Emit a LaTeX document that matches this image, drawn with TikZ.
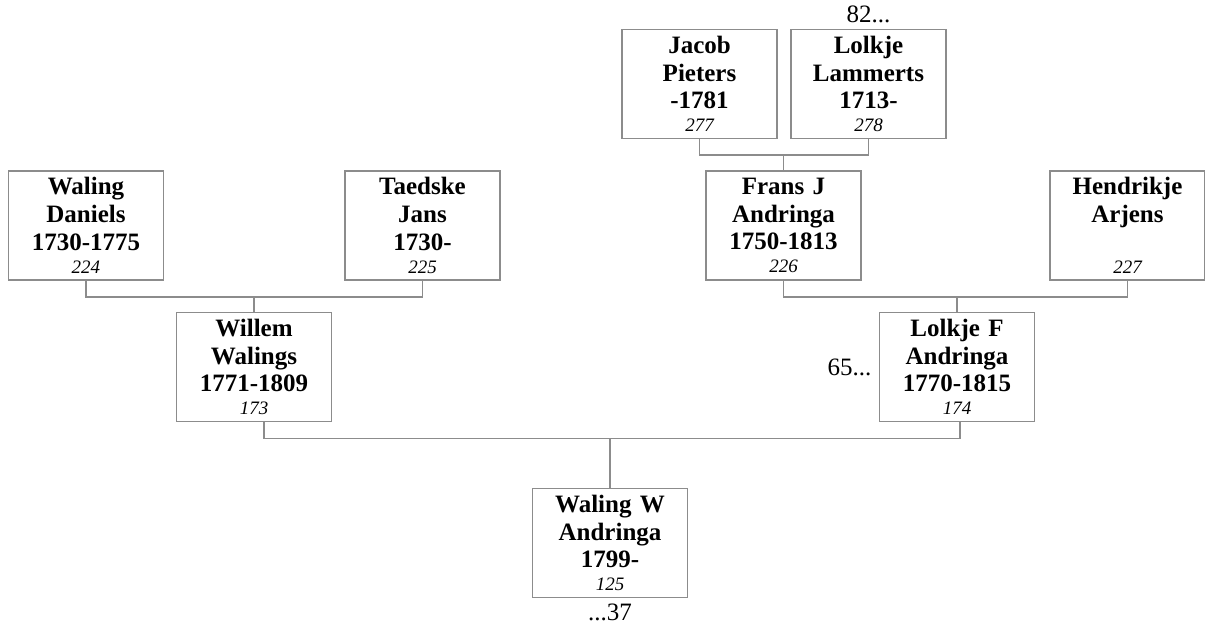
\documentclass[tikz,border=0pt]{standalone}
\usepackage{fontspec}
\setmainfont{Liberation Serif}
\usetikzlibrary{positioning}
\definecolor{linegray}{RGB}{140,140,140}
\tikzset{
  person/.style={draw=linegray, line width=0.8pt, text width=74pt, inner sep=1.75pt,
    minimum height=54.5pt, align=center, font=\fontsize{12.5}{13.9}\selectfont\bfseries},
  link/.style={draw=linegray, line width=0.8pt},
  cont/.style={inner sep=0pt, font=\fontsize{12.5}{14}\selectfont}
}
\newcommand{\refno}[1]{\\[-2.4pt]{\fontsize{9.5}{11}\selectfont\mdseries\itshape #1}}

\begin{document}
\begin{tikzpicture}[x=0.5pt,y=-0.5pt]
\useasboundingbox (0,0) rectangle (1205,626);

% Great-grandparents
\node[person] (jacob) at (699.5,84) {Jacob\\Pieters\\-1781\refno{277}};
\node[person] (lolkjeL) at (868.5,84) {Lolkje\\Lammerts\\1713-\refno{278}};
\node[cont] (cont82) [above=2.5pt of lolkjeL] {82...};

% Grandparents
\node[person] (walingD) at (86,225.5) {Waling\\Daniels\\1730-1775\refno{224}};
\node[person] (taedske) at (422.5,225.5) {Taedske\\Jans\\1730-\refno{225}};
\node[person] (frans) at (783.5,225.5) {Frans J\\Andringa\\1750-1813\refno{226}};
\node[person] (hendrikje) at (1127.5,225.5) {Hendrikje\\Arjens\\\mbox{}\refno{227}};

% Parents
\node[person] (willem) at (254,367) {Willem\\Walings\\1771-1809\refno{173}};
\node[person] (lolkjeF) at (957,367) {Lolkje F\\Andringa\\1770-1815\refno{174}};
\node[cont] (cont65) [left=3.5pt of lolkjeF] {65...};

% Child
\node[person] (walingW) at (610,543) {Waling W\\Andringa\\1799-\refno{125}};
\node[cont] (cont37) [below=2.5pt of walingW] {...37};

% Links
\draw[link] (jacob.south) -- ++(0,16) coordinate (b1) -| (lolkjeL.south);
\draw[link] (b1 -| frans.north) -- (frans.north);
\draw[link] (walingD.south) -- ++(0,16) coordinate (b2) -| (taedske.south);
\draw[link] (b2 -| willem.north) -- (willem.north);
\draw[link] (frans.south) -- ++(0,16) coordinate (b3) -| (hendrikje.south);
\draw[link] (b3 -| lolkjeF.north) -- (lolkjeF.north);
\draw[link] ([xshift=5pt]willem.south) -- ++(0,16) coordinate (b4) -| ([xshift=1.5pt]lolkjeF.south);
\draw[link] (b4 -| walingW.north) -- (walingW.north);

\end{tikzpicture}
\end{document}
